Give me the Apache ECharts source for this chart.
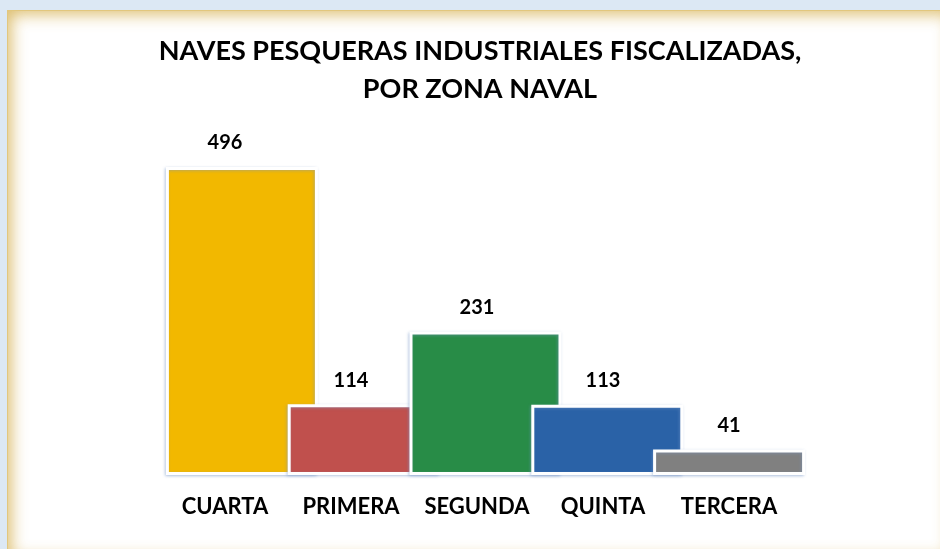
<!DOCTYPE html>
<html>
<head>
<meta charset="utf-8">
<script src="https://cdn.jsdelivr.net/npm/echarts@6/dist/echarts.min.js"></script>
<style>
  html, body { margin: 0; padding: 0; }
  body {
    width: 940px; height: 549px; overflow: hidden; position: relative;
    background: #dce8f4;
  }
  .frame {
    position: absolute; left: 7px; top: 10px; width: 945px; height: 550px;
    background: #ffffff;
    box-shadow: inset 0 0 16px 3px rgba(214, 176, 80, 0.85);
    border-top: 1px solid #e2c77e; border-left: 1px solid #e2c77e;
  }
  #chart { position: absolute; left: 0; top: 0; width: 940px; height: 549px; }
</style>
</head>
<body>
<div class="frame"></div>
<div id="chart"></div>
<script>
// datos
const zonas = ['CUARTA', 'PRIMERA', 'SEGUNDA', 'QUINTA', 'TERCERA'];
const naves = [496, 114, 231, 113, 41];
const colores = ['#F2B800', '#C0504D', '#288C47', '#2A62A7', '#808080'];

const myChart = echarts.init(document.getElementById('chart'));

const option = {
  backgroundColor: 'transparent',
  title: {
    text: 'NAVES PESQUERAS INDUSTRIALES FISCALIZADAS,\nPOR ZONA NAVAL',
    left: 475,
    top: 27,
    textAlign: 'center',
    textStyle: {
      fontFamily: 'Lato',
      fontWeight: 'bold',
      fontSize: 27,
      lineHeight: 38,
      color: '#000'
    }
  },
  // grid 0: barras, grid 1: etiquetas
  grid: [
    { left: 181, right: 150, top: 102.4, bottom: 74 },
    { left: 162, right: 148, top: 102.4, bottom: 74 }
  ],
  xAxis: [{
    type: 'category',
    gridIndex: 0,
    data: zonas,
    axisLine: { show: false },
    axisTick: { show: false },
    axisLabel: { show: false }
  }, {
    type: 'category',
    gridIndex: 1,
    data: zonas,
    axisLine: { show: false },
    axisTick: { show: false },
    axisLabel: {
      interval: 0,
      margin: 21,
      color: '#000',
      fontFamily: 'Lato',
      fontWeight: 'bold',
      fontSize: 22
    }
  }],
  yAxis: [{
    type: 'value', gridIndex: 0, min: 0, max: 600, show: false
  }, {
    type: 'value', gridIndex: 1, min: 0, max: 600, show: false
  }],
  series: [{
    type: 'bar',
    xAxisIndex: 0,
    yAxisIndex: 0,
    barWidth: 152,
    barMinWidth: 152,
    barMaxWidth: 152,
    clip: false,
    data: naves.map((v, i) => ({
      value: v,
      itemStyle: { color: colores[i] }
    })),
    itemStyle: {
      borderColor: '#ffffff',
      borderWidth: 3,
      shadowColor: 'rgba(120, 150, 200, 0.45)',
      shadowBlur: 3,
      shadowOffsetX: -1,
      shadowOffsetY: 1
    },
    animation: false
  }, {
    type: 'bar',
    xAxisIndex: 1,
    yAxisIndex: 1,
    barWidth: 20,
    data: naves,
    itemStyle: { color: 'transparent' },
    label: {
      show: true,
      position: 'top',
      distance: 14,
      color: '#000',
      fontFamily: 'Lato',
      fontWeight: 'bold',
      fontSize: 20
    },
    silent: true,
    animation: false
  }]
};

myChart.setOption(option);
</script>
</body>
</html>
